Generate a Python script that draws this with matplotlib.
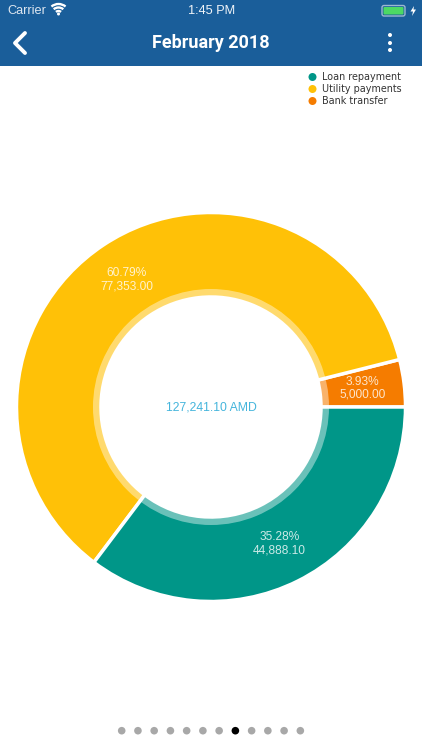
import numpy as np
import matplotlib
matplotlib.use('Agg')
import matplotlib.pyplot as plt
from matplotlib.patches import Rectangle, FancyBboxPatch, Arc, Circle, Wedge, Polygon

# Chart data
categories = ['Bank transfer', 'Utility payments', 'Loan repayment']
amounts = [5000.00, 77353.00, 44888.10]
percents = ['3.93%', '60.79%', '35.28%']
colors = ['#F57C00', '#FFC107', '#009688']
legend_order = [2, 1, 0]
total_label = '127,241.10 AMD'
n_pages = 12
current_page = 7

W, H = 422, 750
cx, cy = 211, H - 407

fig = plt.figure(figsize=(W / 100, H / 100), dpi=100)
ax = fig.add_axes([0, 0, 1, 1])

# Donut
wedges, _ = ax.pie(amounts, colors=colors, startangle=0, counterclock=True,
                   center=(cx, cy), radius=194.5,
                   wedgeprops=dict(width=84.5, edgecolor='white', linewidth=2.5))
# Lighter inner rim
ax.add_patch(Wedge((cx, cy), 118, 0, 360, width=8, fc='white', ec='none', alpha=0.42))
ax.set_aspect('equal')
ax.set_xlim(0, W)
ax.set_ylim(0, H)
ax.axis('off')

# Slice labels
for w, p, a in zip(wedges, percents, amounts):
    ang = np.radians((w.theta1 + w.theta2) / 2)
    tx = cx + 153 * np.cos(ang)
    ty = cy + 153 * np.sin(ang)
    ax.text(tx, ty + 6.5, p, color='white', alpha=0.8, fontsize=8.6, family='Liberation Sans',
            ha='center', va='center')
    ax.text(tx, ty - 6.5, f'{a:,.2f}', color='white', alpha=0.8, fontsize=8.6, family='Liberation Sans',
            ha='center', va='center')

ax.text(cx, cy, total_label, color='#45B5DC', fontsize=8.8, family='Liberation Sans',
        ha='center', va='center')

# Legend
for i, idx in enumerate(legend_order):
    y = H - 77 - 12 * i
    ax.add_patch(Circle((312.5, y), 4, color=colors[idx], lw=0))
    ax.text(322, y, categories[idx], color='#333333', fontsize=6.9, family='DejaVu Sans',
            ha='left', va='center')

# Header bar
ax.add_patch(Rectangle((0, H - 66), W, 66, color='#1A5E9A', lw=0))
ax.text(211, H - 43, 'February 2018', color='white', fontsize=13, fontweight='bold',
        family='Roboto', ha='center', va='center')
ax.plot([25, 15, 25], [H - 33, H - 43, H - 53], color='white', lw=2.8, solid_capstyle='round')
for y in [35, 43, 50]:
    ax.add_patch(Circle((390, H - y), 2, color='white', lw=0))

# Status bar
ax.text(7, H - 11, 'Carrier', color='#DDE6F0', fontsize=9.2, family='Liberation Sans',
        ha='left', va='center')
ax.text(212, H - 11, '1:45 PM', color='#F0F4F8', fontsize=9.2, family='Liberation Sans',
        ha='center', va='center')
# wifi icon
for r in [8, 15, 22]:
    ax.add_patch(Arc((58.5, H - 15), r, r, theta1=50, theta2=130, color='white', lw=1.7))
ax.add_patch(Circle((58.5, H - 14), 1.5, color='white', lw=0))
# battery
ax.add_patch(FancyBboxPatch((382, H - 16), 23, 10.5, boxstyle='round,pad=0,rounding_size=2',
                            fc='none', ec='#9DB8D0', lw=1))
ax.add_patch(FancyBboxPatch((383.5, H - 14.5), 20, 7.5, boxstyle='round,pad=0,rounding_size=1',
                            fc='#4CD964', ec='none'))
ax.add_patch(Polygon([(414, H - 6), (410.5, H - 11.5), (413, H - 11.5), (412, H - 16),
                      (416, H - 9.5), (413.5, H - 9.5)], fc='white', ec='none'))

# Page dots
for i in range(n_pages):
    x = 121.7 + 16.24 * i
    ax.add_patch(Circle((x, H - 730.7), 3.8, color='black' if i == current_page else '#A8A8A8', lw=0))

fig.savefig('out.png', dpi=100)
